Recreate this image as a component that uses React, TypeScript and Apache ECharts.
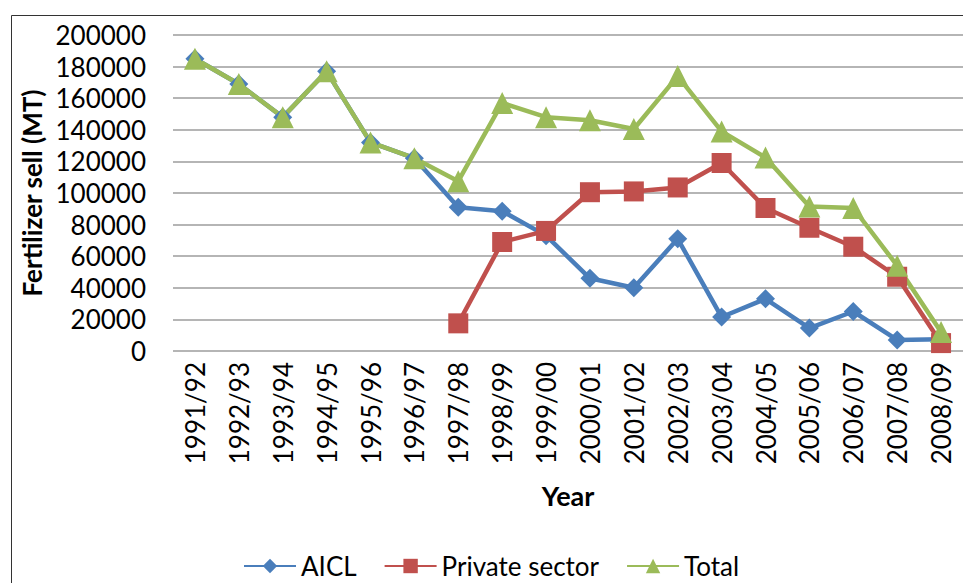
import React, { useEffect, useRef } from "react";
import * as echarts from "echarts";

const categories = [
  "1991/92", "1992/93", "1993/94", "1994/95", "1995/96", "1996/97",
  "1997/98", "1998/99", "1999/00", "2000/01", "2001/02", "2002/03",
  "2003/04", "2004/05", "2005/06", "2006/07", "2007/08", "2008/09",
];

const aicl = [
  185000, 169000, 148000, 177000, 132000, 122000,
  91000, 88500, 73000, 46000, 40000, 71000,
  21500, 33000, 14500, 25000, 7000, 7500,
];

const privateSector = [
  null, null, null, null, null, null,
  17500, 69000, 76000, 100500, 101000, 103500,
  119000, 90500, 78000, 66000, 47000, 5000,
];

const total = [
  185000, 169000, 148000, 177000, 132000, 122000,
  107500, 157000, 148000, 146000, 140500, 174000,
  139000, 122500, 91500, 90500, 54000, 12000,
];

const FONT = "Lato, 'Open Sans', sans-serif";

export default function App() {
  const ref = useRef<HTMLDivElement>(null);

  useEffect(() => {
    if (!ref.current) return;
    const chart = echarts.init(ref.current, null, { renderer: "svg" });
    chart.setOption({
      animation: false,
      backgroundColor: "#ffffff",
      textStyle: { fontFamily: FONT, color: "#000" },
      graphic: [
        {
          type: "rect",
          shape: { x: 11.5, y: 15.5, width: 1000, height: 700 },
          style: { fill: "none", stroke: "#333333", lineWidth: 1 },
          silent: true,
        },
      ],
      grid: { left: 173, right: -6, top: 35, bottom: 232, containLabel: false },
      legend: {
        left: 238,
        top: 548,
        itemWidth: 52,
        itemHeight: 18,
        itemGap: 27,
        textStyle: { fontFamily: FONT, fontSize: 26, color: "#000" },
        data: ["AICL", "Private sector", "Total"],
      },
      xAxis: {
        type: "category",
        data: categories,
        boundaryGap: true,
        axisLine: { show: false },
        axisTick: { show: false },
        axisLabel: {
          rotate: 90,
          interval: 0,
          margin: 11,
          fontFamily: FONT,
          fontSize: 26,
          color: "#000",
        },
        name: "Year",
        nameLocation: "middle",
        nameGap: 131,
        nameTextStyle: { fontFamily: FONT, fontSize: 27, fontWeight: "bold", color: "#000" },
      },
      yAxis: {
        type: "value",
        min: 0,
        max: 200000,
        interval: 20000,
        axisLine: { show: false },
        axisTick: { show: false },
        splitLine: { lineStyle: { color: "#9c9c9c", width: 1.5 } },
        axisLabel: {
          margin: 27,
          fontFamily: FONT,
          fontSize: 26,
          color: "#000",
          formatter: (v: number) => String(v),
        },
        name: "Fertilizer sell (MT)",
        nameLocation: "middle",
        nameGap: 127,
        nameTextStyle: { fontFamily: FONT, fontSize: 26, fontWeight: "bold", color: "#000" },
      },
      series: [
        {
          name: "AICL",
          type: "line",
          data: aicl,
          symbol: "diamond",
          symbolSize: 19,
          color: "#4A7EBB",
          lineStyle: { width: 4.5, color: "#4A7EBB" },
          itemStyle: { color: "#4A7EBB" },
        },
        {
          name: "Private sector",
          type: "line",
          data: privateSector,
          symbol: "rect",
          symbolSize: 20,
          color: "#C0504D",
          lineStyle: { width: 4.5, color: "#C0504D" },
          itemStyle: { color: "#C0504D" },
        },
        {
          name: "Total",
          type: "line",
          data: total,
          symbol: "triangle",
          symbolSize: 22,
          color: "#9BBB59",
          lineStyle: { width: 4.5, color: "#9BBB59" },
          itemStyle: { color: "#9BBB59" },
        },
      ],
    });
    return () => chart.dispose();
  }, []);

  return (
    <div
      ref={ref}
      style={{ position: "fixed", left: 0, top: 0, width: 963, height: 583 }}
    />
  );
}
